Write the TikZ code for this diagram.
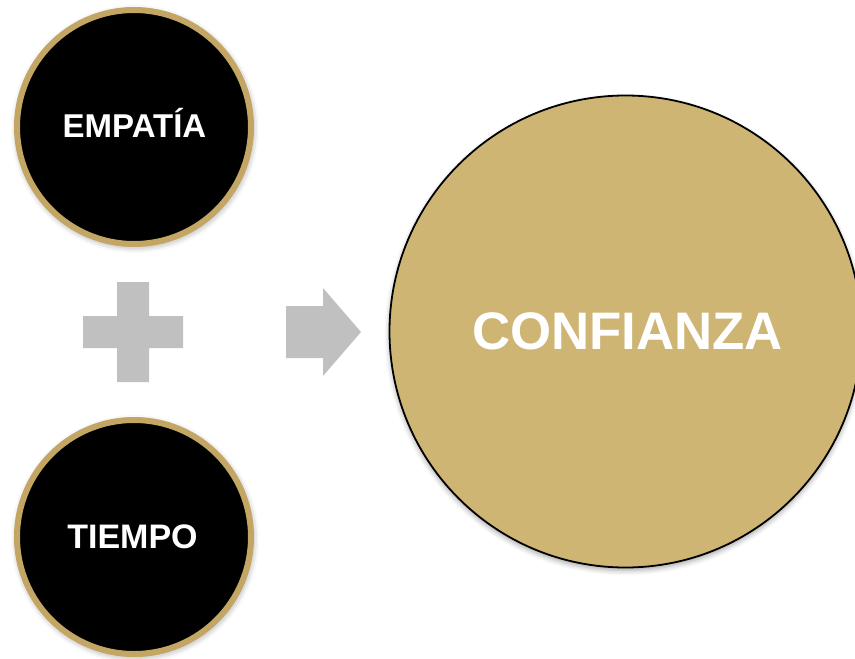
\documentclass[tikz,border=0pt]{standalone}
\usepackage{fontspec}
\setmainfont{Liberation Sans}
\usetikzlibrary{shadows.blur}
\definecolor{ringgold}{RGB}{195,165,100}
\definecolor{bigfill}{RGB}{207,181,115}
\definecolor{symgray}{RGB}{192,192,192}
\tikzset{
  smallcircle/.style={circle, fill=black, draw=ringgold, line width=6pt,
    minimum size=234pt, inner sep=0pt,
    blur shadow={shadow xshift=1pt, shadow yshift=-2pt, shadow blur radius=7pt, shadow opacity=45}},
  bigcircle/.style={circle, fill=bigfill, draw=black, line width=1.8pt,
    minimum size=472pt, inner sep=0pt,
    blur shadow={shadow xshift=0pt, shadow yshift=-3pt, shadow blur radius=5pt, shadow opacity=35}},
  smalltext/.style={text=white, font=\bfseries\fontsize{33}{38}\selectfont, anchor=base, inner sep=0pt},
  smalltextb/.style={text=white, font=\bfseries\fontsize{34}{38}\selectfont, anchor=base, inner sep=0pt},
  bigtext/.style={text=white, font=\bfseries\fontsize{52.8}{60}\selectfont, anchor=base, inner sep=0pt},
  symbolshape/.style={fill=symgray, draw=none}
}
\begin{document}
\begin{tikzpicture}[x=1pt,y=-1pt]
  \useasboundingbox (0,0) rectangle (855,659);
  \begin{scope}
    \clip (0,0) rectangle (855,659);
    \node[smallcircle] (empatia) at (134,127) {};
    \node[smallcircle] (tiempo) at (134,537) {};
    \node[bigcircle] (confianza) at (625.5,331.5) {};
  \end{scope}
  \node[smalltext] (empatiatext) at (134.5,137) {EMPATÍA};
  \node[smalltextb] (tiempotext) at (132.5,548) {TIEMPO};
  \node[bigtext] (confianzatext) at (627.5,349) {CONFIANZA};
  % plus sign
  \fill[symbolshape] (117,282) -- (149,282) -- (149,316) -- (183,316) -- (183,348)
    -- (149,348) -- (149,382) -- (117,382) -- (117,348) -- (83,348) -- (83,316)
    -- (117,316) -- cycle;
  % arrow
  \fill[symbolshape] (286,306) -- (323,306) -- (323,288) -- (361,332) -- (323,376)
    -- (323,358) -- (286,358) -- cycle;
\end{tikzpicture}
\end{document}
